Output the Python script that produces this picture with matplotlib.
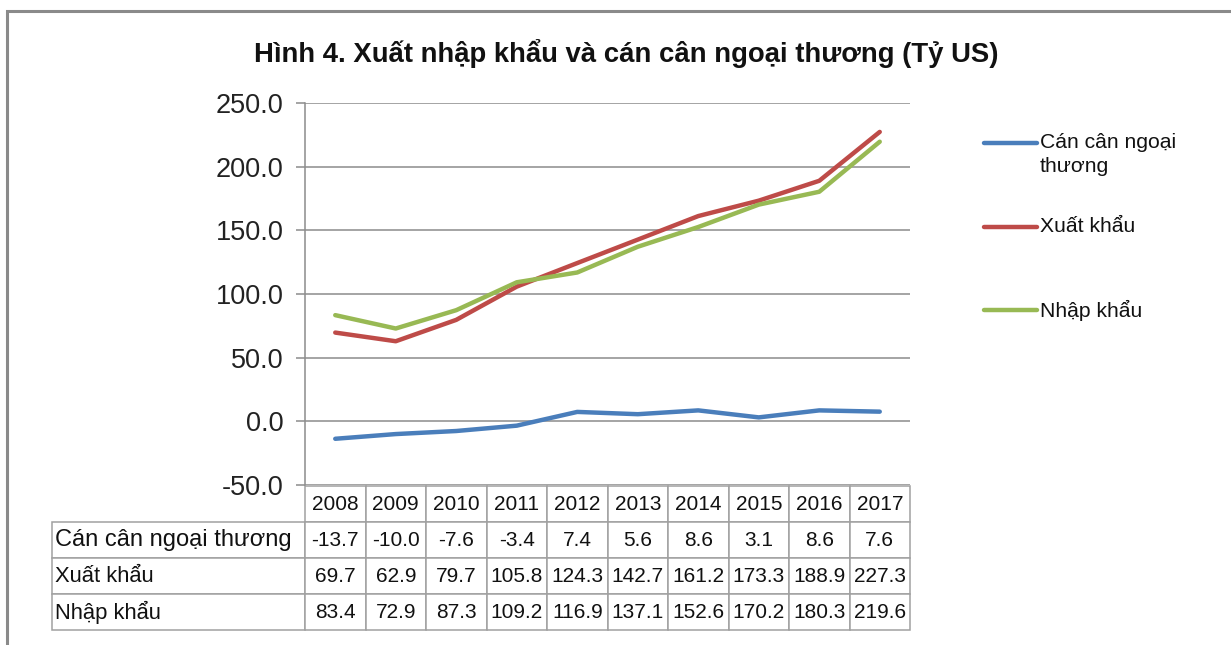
import matplotlib
matplotlib.use("Agg")
import matplotlib.pyplot as plt
from matplotlib.lines import Line2D
from matplotlib.patches import Rectangle

years = ["2008", "2009", "2010", "2011", "2012", "2013", "2014", "2015", "2016", "2017"]
balance = [-13.7, -10.0, -7.6, -3.4, 7.4, 5.6, 8.6, 3.1, 8.6, 7.6]
exports = [69.7, 62.9, 79.7, 105.8, 124.3, 142.7, 161.2, 173.3, 188.9, 227.3]
imports = [83.4, 72.9, 87.3, 109.2, 116.9, 137.1, 152.6, 170.2, 180.3, 219.6]
series_names = ["Cán cân ngoại thương", "Xuất khẩu", "Nhập khẩu"]
legend_labels = ["Cán cân ngoại\nthương", "Xuất khẩu", "Nhập khẩu"]
title = "Hình 4. Xuất nhập khẩu và cán cân ngoại thương (Tỷ US)"
yticks = [-50, 0, 50, 100, 150, 200, 250]

colors = ["#4A7EBB", "#BE4B48", "#98B954"]
grid_c = "#8C8C8C"
W, H = 1231, 645

plt.rcParams['font.family'] = ['Liberation Sans', 'DejaVu Sans']
fig = plt.figure(figsize=(W / 100, H / 100), dpi=100)

# outer frame
fig.add_artist(Rectangle((7 / W, -0.1), 1.2, 1 - 11 / H + 0.1, transform=fig.transFigure,
                         fill=False, edgecolor="#8A8A8A", linewidth=2.2))

L, R, T, B = 305, 910, 103, 485
ax = fig.add_axes([L / W, 1 - B / H, (R - L) / W, (B - T) / H])
x = list(range(len(years)))
for vals, c in zip([balance, exports, imports], colors):
    ax.plot(x, vals, color=c, linewidth=3.2, solid_capstyle="round")
ax.set_xlim(-0.5, len(years) - 0.5)
ax.set_ylim(-50, 250)
ax.set_yticks(yticks)
ax.set_yticklabels([f"{v:.1f}" for v in yticks], fontsize=19.5, color="#222222")
ax.yaxis.grid(True, color=grid_c, linewidth=1.1)
ax.set_axisbelow(True)
ax.set_xticks([])
for s in ["top", "right", "bottom"]:
    ax.spines[s].set_visible(False)
ax.spines["left"].set_color(grid_c)
ax.spines["left"].set_linewidth(1.1)
ax.tick_params(axis="y", length=6.5, width=1.1, color=grid_c, pad=9)

# data table
label_w = 253
data_w = (R - L) / len(years)
total_w = label_w + data_w * len(years)
cell_text = [[""] + years]
for name, vals in zip(series_names, [balance, exports, imports]):
    cell_text.append([name] + [f"{v:.1f}" for v in vals])
tb_top, tb_bot = 486, 630
axh = B - T
tbl = ax.table(cellText=cell_text,
               colWidths=[label_w / total_w] + [data_w / total_w] * len(years),
               bbox=[-label_w / (R - L), -(tb_bot - B) / axh, total_w / (R - L), (tb_bot - tb_top) / axh],
               cellLoc="center")
tbl.auto_set_font_size(False)
for (r, c), cell in tbl.get_celld().items():
    cell.set_edgecolor("#A0A0A0")
    cell.set_linewidth(1.1)
    cell.get_text().set_fontsize(15)
    cell.get_text().set_color("#111111")
    if c == 0:
        cell.get_text().set_ha("left")
        cell._loc = "left"
        cell.PAD = 0.01
        cell.get_text().set_fontsize(15.8)
        if r == 0:
            cell.set_edgecolor("none")
        if r == 1:
            cell.get_text().set_fontsize(17)
tbl.set_clip_on(False)

# title
fig.text(626 / W, 1 - 53 / H, title, ha="center", va="center", fontsize=19.8,
         fontweight="bold", color="#111111")

# legend (manual)
leg_y = [143, 227, 310]
for lab, c, yy in zip(legend_labels, colors, leg_y):
    fig.add_artist(Line2D([984 / W, 1037 / W], [1 - yy / H] * 2, transform=fig.transFigure,
                          color=c, linewidth=3.2, solid_capstyle="round"))
    for i, part in enumerate(lab.split("\n")):
        fig.text(1040 / W, 1 - (yy + 24 * i) / H, part, ha="left", va="center",
                 fontsize=15.2, color="#111111")

fig.savefig("out.png", dpi=100)
